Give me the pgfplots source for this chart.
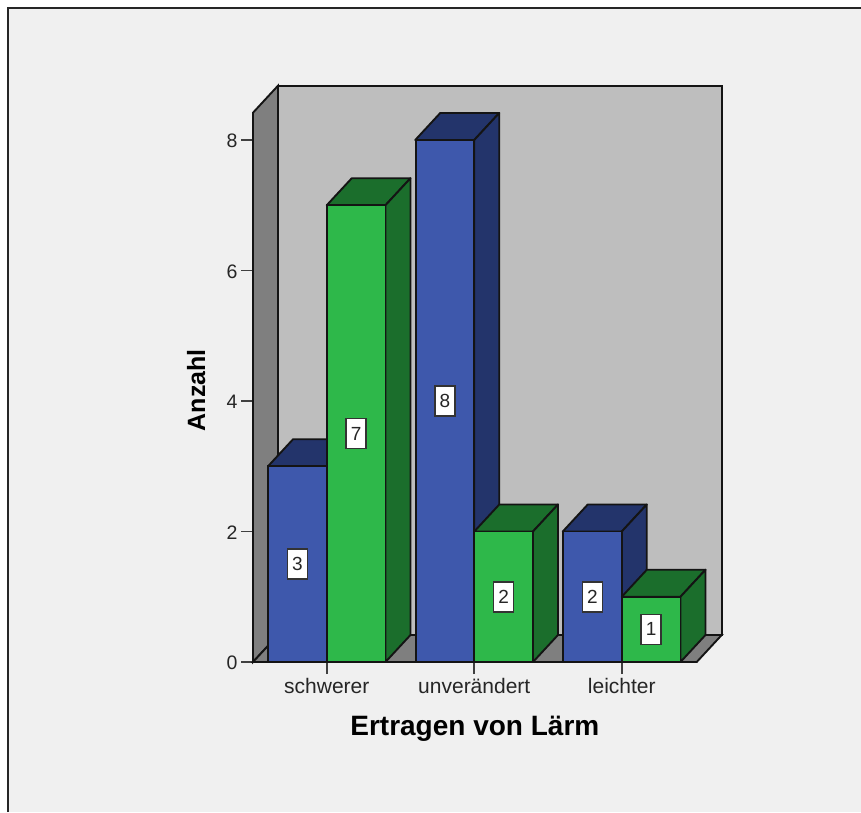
\documentclass[border=0pt]{standalone}
\usepackage{fontspec}
\setmainfont{Liberation Sans}
\usepackage{pgfplots}
\pgfplotsset{compat=1.18}
\definecolor{panel}{HTML}{F0F0F0}
\definecolor{backwall}{HTML}{BEBEBE}
\definecolor{sidewall}{HTML}{7F7F7F}
\definecolor{edge}{HTML}{141414}
\definecolor{blueFront}{HTML}{3E58AC}
\definecolor{blueDark}{HTML}{23346B}
\definecolor{greenFront}{HTML}{2EB84A}
\definecolor{greenDark}{HTML}{1B6E2C}
% depth of the oblique projection, in data units
\newcommand{\dx}{0.1695}
\newcommand{\dy}{0.4138}
% top and side faces of one bar: left x, right x, value, top colour, side colour
\newcommand{\barfaces}[5]{%
  \pgfmathsetmacro{\xa}{#1+\dx}%
  \pgfmathsetmacro{\xb}{#2+\dx}%
  \pgfmathsetmacro{\ya}{#3+\dy}%
  \addplot[draw=edge,line width=1.9pt,fill=#4,line join=round] coordinates {(#1,#3) (#2,#3) (\xb,\ya) (\xa,\ya)} -- cycle;
  \addplot[draw=edge,line width=1.9pt,fill=#5,line join=round] coordinates {(#2,0) (\xb,\dy) (\xb,\ya) (#2,#3)} -- cycle;
}
\newcommand{\valuebox}[2]{%
  \node[fill=white,draw=black!80,line width=1.7pt,minimum width=20pt,minimum height=30pt,
        inner sep=0pt,font=\fontsize{19}{19}\selectfont,text=black!85] at (axis cs:#1,#2/2) {#2};
}
\begin{document}
\begin{tikzpicture}[x=1pt,y=1pt]
  \path[use as bounding box] (0,0) rectangle (861,812);
  \fill[white] (0,0) rectangle (861,812);
  \fill[panel] (8,0) rectangle (861,804);
  \draw[black!85,line width=1.8pt] (8,0) -- (8,804) -- (861,804);
  \begin{axis}[
    at={(253pt,150pt)},anchor=south west,
    scale only axis,width=443.7pt,height=549.3pt,
    xmin=-0.5,xmax=2.508,ymin=0,ymax=8.418,
    clip=false,
    axis x line*=bottom,axis y line*=left,
    axis line style={-,draw=edge,line width=1.9pt},
    xtick={0,1,2},xticklabels={schwerer,unverändert,leichter},
    ytick={0,2,4,6,8},
    tick align=outside,tick pos=left,
    major tick length=12pt,
    tick style={draw=black!75,line width=1.6pt},
    /pgf/number format/assume math mode=true,
    tick label style={font=\fontsize{19.5}{20}\selectfont,text=black!85},
    xticklabel style={font=\fontsize{21}{22}\selectfont,yshift=-1pt},
    yticklabel style={yshift=-1pt},
    xlabel={\textbf{Ertragen von Lärm}},
    ylabel={\textbf{Anzahl}},
    xlabel style={font=\fontsize{28}{29}\selectfont,text=black,at={(axis description cs:0.5,0)},yshift=-51pt},
    ylabel style={font=\fontsize{25}{26}\selectfont,text=black,at={(axis description cs:0,0.495)},yshift=44pt},
  ]
    % side wall, floor and back wall of the chart box
    \addplot[draw=edge,line width=1.9pt,fill=sidewall] coordinates {(-0.5,0) (-0.3305,0.4138) (-0.3305,8.832) (-0.5,8.418)} -- cycle;
    \addplot[draw=edge,line width=1.9pt,fill=sidewall] coordinates {(-0.5,0) (-0.3305,0.4138) (2.6775,0.4138) (2.508,0)} -- cycle;
    \addplot[draw=edge,line width=2.2pt,fill=backwall] coordinates {(-0.3305,0.4138) (2.6775,0.4138) (2.6775,8.832) (-0.3305,8.832)} -- cycle;

    % first series
    \barfaces{-0.398}{0}{3}{blueDark}{blueDark}
    \barfaces{0.6}{1}{8}{blueDark}{blueDark}
    \barfaces{1.6}{2}{2}{blueDark}{blueDark}
    \addplot[ybar,bar width=58.7pt,bar shift=-29.35pt,draw=edge,line width=1.9pt,fill=blueFront]
      coordinates {(0,3) (1,8) (2,2)};

    % second series, in front of the first
    \barfaces{0}{0.398}{7}{greenDark}{greenDark}
    \barfaces{1}{1.398}{2}{greenDark}{greenDark}
    \barfaces{2}{2.398}{1}{greenDark}{greenDark}
    \addplot[ybar,bar width=58.7pt,bar shift=29.35pt,draw=edge,line width=1.9pt,fill=greenFront]
      coordinates {(0,7) (1,2) (2,1)};

    % value boxes
    \valuebox{-0.199}{3}
    \valuebox{0.199}{7}
    \valuebox{0.801}{8}
    \valuebox{1.199}{2}
    \valuebox{1.801}{2}
    \valuebox{2.199}{1}
  \end{axis}
\end{tikzpicture}
\end{document}
